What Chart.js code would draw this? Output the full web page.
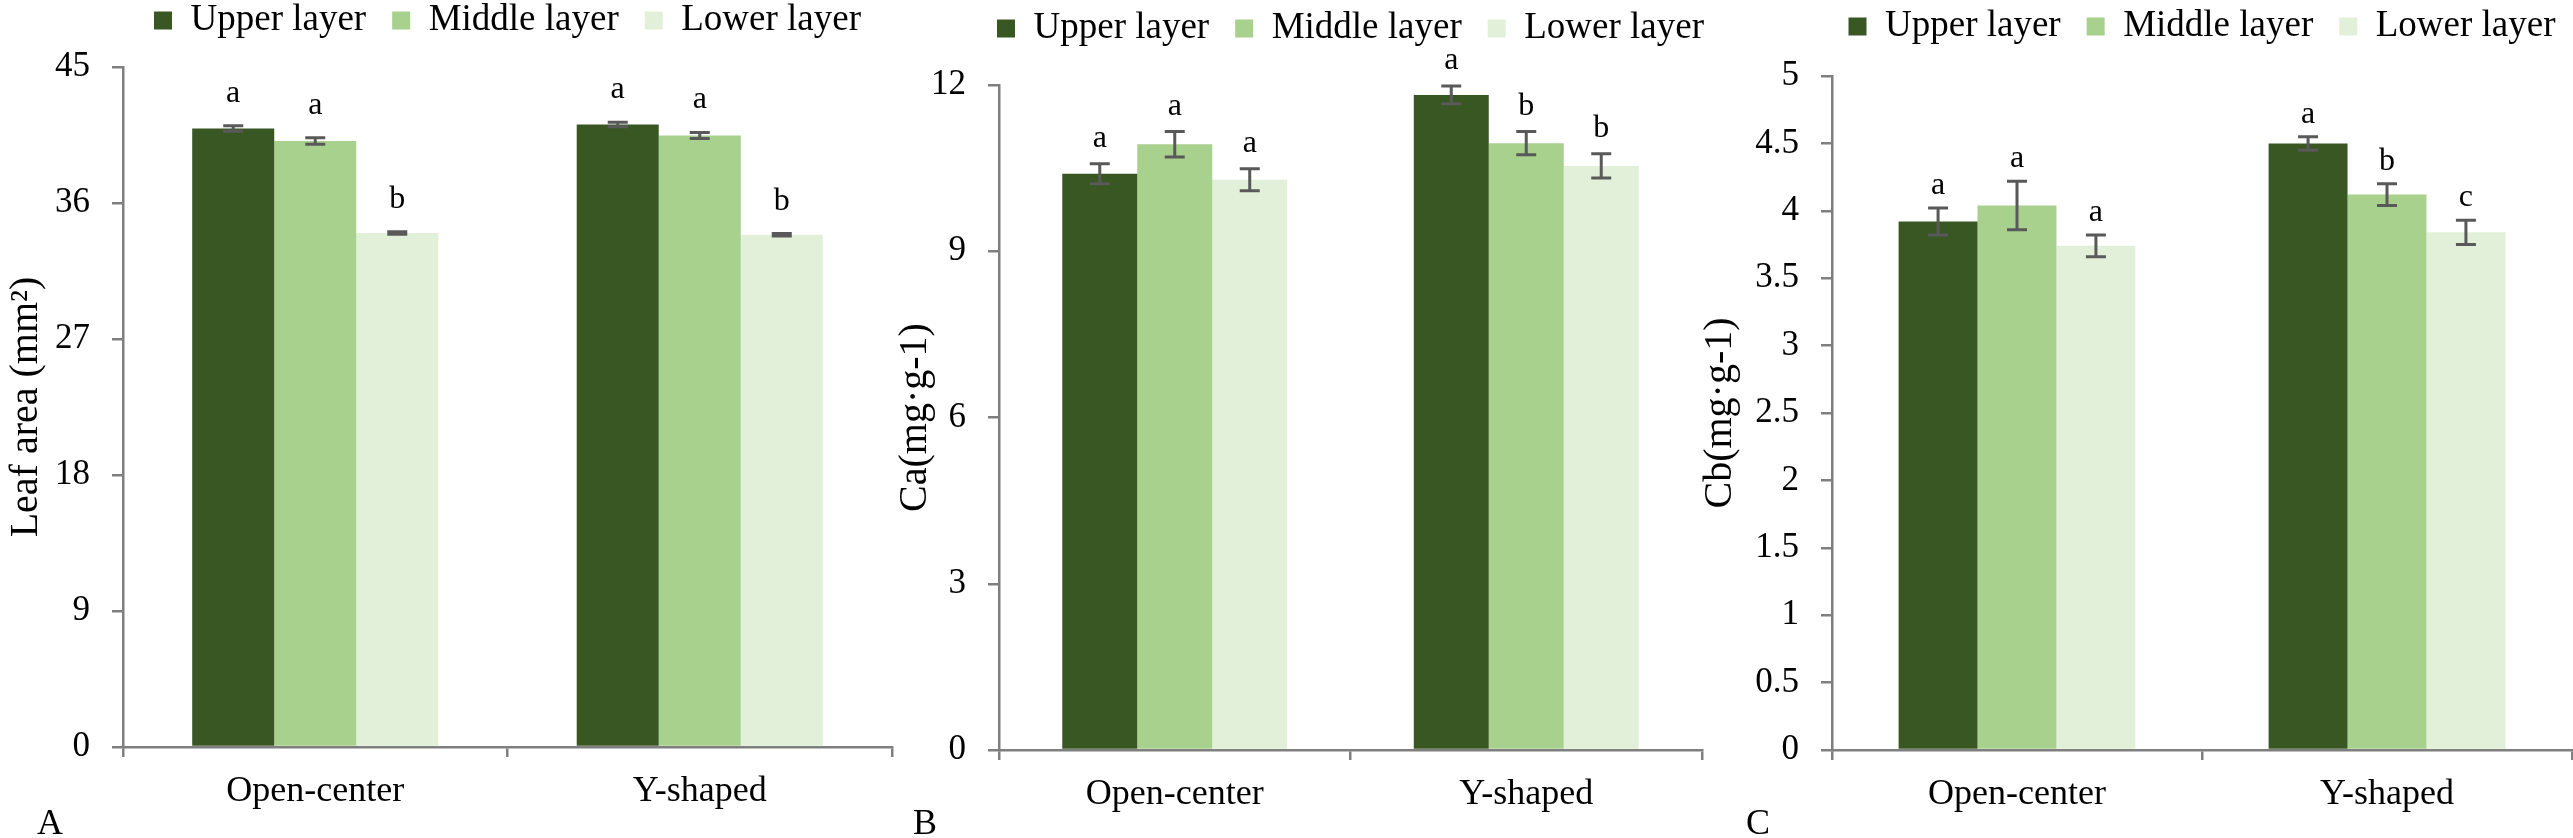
<!DOCTYPE html>
<html>
<head>
<meta charset="utf-8">
<script src="https://cdn.jsdelivr.net/npm/chart.js@4.4.1/dist/chart.umd.min.js"></script>
<style>
  html, body { margin: 0; padding: 0; background: #fff; }
  #wrap { position: relative; width: 2573px; height: 838px; overflow: hidden; background: #fff; }
  #wrap canvas { position: absolute; }
</style>
</head>
<body>
<div id="wrap">
  <canvas id="chartA" width="900" height="862" style="left:0px;top:-24px"></canvas>
  <canvas id="chartB" width="820" height="854" style="left:890px;top:-16px"></canvas>
  <canvas id="chartC" width="878" height="856" style="left:1695px;top:-18px"></canvas>
</div>
<script>
// categories and series
const groups = ['Open-center', 'Y-shaped'];
const layerNames = ['Upper layer', 'Middle layer', 'Lower layer'];

// A - leaf area (mm2)
const leafUpper = [40.93, 41.2];
const leafMiddle = [40.1, 40.47];
const leafLower = [34.02, 33.9];
const leafUpperErr = [0.18, 0.15];
const leafMiddleErr = [0.22, 0.2];
const leafLowerErr = [0.08, 0.08];
const leafUpperSig = ['a', 'a'];
const leafMiddleSig = ['a', 'a'];
const leafLowerSig = ['b', 'b'];
const leafTicks = [0, 9, 18, 27, 36, 45];

// B - Ca
const caUpper = [10.4, 11.82];
const caMiddle = [10.93, 10.95];
const caLower = [10.29, 10.54];
const caUpperErr = [0.18, 0.16];
const caMiddleErr = [0.23, 0.21];
const caLowerErr = [0.2, 0.22];
const caUpperSig = ['a', 'a'];
const caMiddleSig = ['a', 'b'];
const caLowerSig = ['a', 'b'];
const caTicks = [0, 3, 6, 9, 12];

// C - Cb
const cbUpper = [3.92, 4.5];
const cbMiddle = [4.04, 4.12];
const cbLower = [3.74, 3.84];
const cbUpperErr = [0.1, 0.05];
const cbMiddleErr = [0.18, 0.08];
const cbLowerErr = [0.08, 0.09];
const cbUpperSig = ['a', 'a'];
const cbMiddleSig = ['a', 'b'];
const cbLowerSig = ['a', 'c'];
const cbTicks = [0, 0.5, 1, 1.5, 2, 2.5, 3, 3.5, 4, 4.5, 5];

const layerColors = ['#385723', '#a9d18e', '#e2f0d9'];
const axisGray = '#7f7f7f';
const serif = "'Liberation Serif', 'Times New Roman', serif";

Chart.defaults.font.family = serif;
Chart.defaults.color = '#000';

// error bars + significance letters on top of each bar
const errorBars = {
  id: 'errorBars',
  afterDatasetsDraw(chart, args, opts) {
    const ctx = chart.ctx;
    const y = chart.scales.y;
    ctx.save();
    chart.data.datasets.forEach((ds, i) => {
      const meta = chart.getDatasetMeta(i);
      meta.data.forEach((bar, j) => {
        const v = ds.data[j];
        const e = ds.errors[j];
        const top = y.getPixelForValue(v + e);
        const bottom = y.getPixelForValue(v - e);
        ctx.strokeStyle = '#595959';
        ctx.lineWidth = 3;
        ctx.beginPath();
        ctx.moveTo(bar.x, top);
        ctx.lineTo(bar.x, bottom);
        ctx.moveTo(bar.x - 10, top);
        ctx.lineTo(bar.x + 10, top);
        ctx.moveTo(bar.x - 10, bottom);
        ctx.lineTo(bar.x + 10, bottom);
        ctx.stroke();
        ctx.fillStyle = '#000';
        ctx.font = '32px ' + serif;
        ctx.textAlign = 'center';
        ctx.textBaseline = 'alphabetic';
        ctx.fillText(ds.letters[j], bar.x, top - opts.gap);
      });
    });
    ctx.restore();
  }
};

// panel letter A / B / C in the lower left corner
const panelTag = {
  id: 'panelTag',
  afterDraw(chart, args, opts) {
    const ctx = chart.ctx;
    ctx.save();
    ctx.fillStyle = '#000';
    ctx.font = '36px ' + serif;
    ctx.textAlign = 'left';
    ctx.textBaseline = 'alphabetic';
    ctx.fillText(opts.text, chart.chartArea.left - 86, chart.height - 4);
    ctx.restore();
  }
};

// keep the legend on one row (centred over the plot) and leave room under it
const legendGap = {
  id: 'legendGap',
  beforeInit(chart) {
    const legend = chart.legend;
    const update = legend.update;
    legend.update = function (maxWidth, maxHeight, margins) {
      update.call(this, maxWidth + 300, maxHeight, margins);
    };
    const fit = legend.fit;
    legend.fit = function () {
      fit.call(this);
      this.height += chart.options.plugins.legendGap.extra;
    };
    const draw = legend.draw;
    legend.draw = function () {
      const left = this.left, right = this.right;
      this.left = left - 150;
      this.right = right + 150;
      draw.call(this);
      this.left = left;
      this.right = right;
    };
  }
};

function buildChart(id, p) {
  new Chart(document.getElementById(id), {
    type: 'bar',
    data: {
      labels: groups,
      datasets: layerNames.map((name, k) => ({
        label: name,
        data: p.values[k],
        errors: p.errors[k],
        letters: p.letters[k],
        backgroundColor: layerColors[k],
        borderWidth: 0,
        categoryPercentage: 0.64,
        barPercentage: 1
      }))
    },
    options: {
      responsive: false,
      animation: false,
      layout: { padding: { left: 0, right: p.padRight, top: 0, bottom: 0 } },
      plugins: {
        legend: {
          position: 'top',
          fullSize: false,
          labels: {
            boxWidth: 18,
            boxHeight: 18,
            padding: 26,
            color: '#000',
            font: { size: 37 }
          }
        },
        tooltip: { enabled: false },
        errorBars: { gap: p.gap },
        panelTag: { text: p.tag },
        legendGap: { extra: p.legendExtra }
      },
      scales: {
        x: {
          grid: {
            offset: true,
            drawOnChartArea: false,
            tickLength: 10,
            color: axisGray,
            lineWidth: 2.5
          },
          border: { display: true, color: axisGray, width: 2.5 },
          ticks: { font: { size: 36 }, color: '#000', padding: 13, maxRotation: 0 },
          afterFit: s => { s.height = p.xHeight; }
        },
        y: {
          min: p.ticks[0],
          max: p.ticks[p.ticks.length - 1],
          ticks: {
            stepSize: p.ticks[1] - p.ticks[0],
            font: { size: 35 },
            color: '#000',
            padding: 22,
            callback: v => String(v)
          },
          grid: {
            drawOnChartArea: false,
            tickLength: 11,
            color: axisGray,
            lineWidth: 2.5
          },
          border: { display: true, color: axisGray, width: 2.5 },
          title: {
            display: true,
            text: p.title,
            color: '#000',
            font: { size: 40 },
            padding: { top: p.titlePad, bottom: 0 }
          },
          afterFit: s => { s.width = p.yWidth; }
        }
      }
    },
    plugins: [errorBars, panelTag, legendGap]
  });
}

buildChart('chartA', {
  values: [leafUpper, leafMiddle, leafLower],
  errors: [leafUpperErr, leafMiddleErr, leafLowerErr],
  letters: [leafUpperSig, leafMiddleSig, leafLowerSig],
  ticks: leafTicks,
  title: 'Leaf area (mm\u00b2)',
  tag: 'A',
  gap: 24,
  yWidth: 123,
  xHeight: 91,
  padRight: 8,
  legendExtra: 18,
  titlePad: 2
});

buildChart('chartB', {
  values: [caUpper, caMiddle, caLower],
  errors: [caUpperErr, caMiddleErr, caLowerErr],
  letters: [caUpperSig, caMiddleSig, caLowerSig],
  ticks: caTicks,
  title: 'Ca(mg\u00b7g-1)',
  tag: 'B',
  gap: 17,
  yWidth: 109,
  xHeight: 88,
  padRight: 8,
  legendExtra: 28,
  titlePad: 1
});

buildChart('chartC', {
  values: [cbUpper, cbMiddle, cbLower],
  errors: [cbUpperErr, cbMiddleErr, cbLowerErr],
  letters: [cbUpperSig, cbMiddleSig, cbLowerSig],
  ticks: cbTicks,
  title: 'Cb(mg\u00b7g-1)',
  tag: 'C',
  gap: 14,
  yWidth: 137,
  xHeight: 88,
  padRight: 1,
  legendExtra: 21,
  titlePad: 1
});
</script>
</body>
</html>
